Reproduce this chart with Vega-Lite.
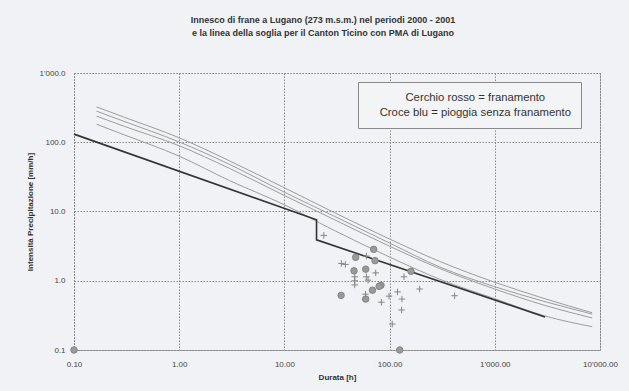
{
  "$schema": "https://vega.github.io/schema/vega-lite/v6.json",
  "width": 526,
  "height": 277,
  "autosize": "none",
  "padding": {"left": 74, "top": 73, "right": 29, "bottom": 41},
  "background": "#f1f2f5",
  "config": {
    "font": "Liberation Sans",
    "view": {"stroke": "#8a8a8a", "strokeDash": [1.5, 1.5], "strokeWidth": 1}
  },
  "title": {
    "text": ["Innesco di frane a Lugano (273 m.s.m.) nel periodi 2000 - 2001", "e la linea della soglia per il Canton Ticino con PMA di Lugano"],
    "fontSize": 9,
    "font": "Liberation Sans",
    "fontWeight": "bold",
    "color": "#333333",
    "lineHeight": 13,
    "anchor": "middle",
    "dx": -14,
    "offset": 31
  },
  "datasets": {
    "curve": [
      {"curva": "C1", "durata": 0.164, "intensita": 324},
      {"curva": "C1", "durata": 0.3, "intensita": 230},
      {"curva": "C1", "durata": 1, "intensita": 116},
      {"curva": "C1", "durata": 3, "intensita": 54},
      {"curva": "C1", "durata": 10, "intensita": 22},
      {"curva": "C1", "durata": 30, "intensita": 9.6},
      {"curva": "C1", "durata": 100, "intensita": 4.0},
      {"curva": "C1", "durata": 300, "intensita": 1.9},
      {"curva": "C1", "durata": 1000, "intensita": 0.95},
      {"curva": "C1", "durata": 3000, "intensita": 0.55},
      {"curva": "C1", "durata": 8430, "intensita": 0.345},
      {"curva": "C2", "durata": 0.164, "intensita": 281},
      {"curva": "C2", "durata": 0.3, "intensita": 200},
      {"curva": "C2", "durata": 1, "intensita": 101},
      {"curva": "C2", "durata": 3, "intensita": 48},
      {"curva": "C2", "durata": 10, "intensita": 19},
      {"curva": "C2", "durata": 30, "intensita": 8.5},
      {"curva": "C2", "durata": 100, "intensita": 3.5},
      {"curva": "C2", "durata": 300, "intensita": 1.58},
      {"curva": "C2", "durata": 1000, "intensita": 0.82},
      {"curva": "C2", "durata": 3000, "intensita": 0.5},
      {"curva": "C2", "durata": 8430, "intensita": 0.33},
      {"curva": "C3", "durata": 0.164, "intensita": 238},
      {"curva": "C3", "durata": 0.3, "intensita": 170},
      {"curva": "C3", "durata": 1, "intensita": 89},
      {"curva": "C3", "durata": 3, "intensita": 42},
      {"curva": "C3", "durata": 10, "intensita": 17},
      {"curva": "C3", "durata": 30, "intensita": 7.6},
      {"curva": "C3", "durata": 100, "intensita": 3.15},
      {"curva": "C3", "durata": 300, "intensita": 1.5},
      {"curva": "C3", "durata": 1000, "intensita": 0.76},
      {"curva": "C3", "durata": 3000, "intensita": 0.44},
      {"curva": "C3", "durata": 8430, "intensita": 0.29},
      {"curva": "C4", "durata": 0.164, "intensita": 182},
      {"curva": "C4", "durata": 0.3, "intensita": 128},
      {"curva": "C4", "durata": 1, "intensita": 63},
      {"curva": "C4", "durata": 3, "intensita": 28},
      {"curva": "C4", "durata": 10, "intensita": 12.5},
      {"curva": "C4", "durata": 30, "intensita": 5.3},
      {"curva": "C4", "durata": 100, "intensita": 2.2},
      {"curva": "C4", "durata": 300, "intensita": 1.05},
      {"curva": "C4", "durata": 1000, "intensita": 0.55},
      {"curva": "C4", "durata": 3000, "intensita": 0.31},
      {"curva": "C4", "durata": 8430, "intensita": 0.217}
    ],
    "soglia": [
      {"n": 1, "durata": 0.1, "intensita": 131},
      {"n": 2, "durata": 20.2, "intensita": 7.6},
      {"n": 3, "durata": 20.2, "intensita": 3.9},
      {"n": 4, "durata": 3000, "intensita": 0.3}
    ],
    "punti": [
      {"tipo": "Cerchio rosso = franamento", "durata": 0.1, "intensita": 0.1},
      {"tipo": "Cerchio rosso = franamento", "durata": 124.7, "intensita": 0.1},
      {"tipo": "Cerchio rosso = franamento", "durata": 70.6, "intensita": 2.84},
      {"tipo": "Cerchio rosso = franamento", "durata": 47.6, "intensita": 2.18},
      {"tipo": "Cerchio rosso = franamento", "durata": 72.7, "intensita": 1.95},
      {"tipo": "Cerchio rosso = franamento", "durata": 45.9, "intensita": 1.39},
      {"tipo": "Cerchio rosso = franamento", "durata": 59.3, "intensita": 1.47},
      {"tipo": "Cerchio rosso = franamento", "durata": 82.8, "intensita": 0.86},
      {"tipo": "Cerchio rosso = franamento", "durata": 79.5, "intensita": 0.83},
      {"tipo": "Cerchio rosso = franamento", "durata": 68.7, "intensita": 0.73},
      {"tipo": "Cerchio rosso = franamento", "durata": 34.6, "intensita": 0.615},
      {"tipo": "Cerchio rosso = franamento", "durata": 59.3, "intensita": 0.544},
      {"tipo": "Cerchio rosso = franamento", "durata": 159.7, "intensita": 1.37},
      {"tipo": "Croce blu = pioggia senza franamento", "durata": 23.7, "intensita": 4.52},
      {"tipo": "Croce blu = pioggia senza franamento", "durata": 34.8, "intensita": 1.78},
      {"tipo": "Croce blu = pioggia senza franamento", "durata": 38.0, "intensita": 1.72},
      {"tipo": "Croce blu = pioggia senza franamento", "durata": 60.2, "intensita": 2.27},
      {"tipo": "Croce blu = pioggia senza franamento", "durata": 73.8, "intensita": 1.3},
      {"tipo": "Croce blu = pioggia senza franamento", "durata": 46.6, "intensita": 1.14},
      {"tipo": "Croce blu = pioggia senza franamento", "durata": 46.6, "intensita": 1.0},
      {"tipo": "Croce blu = pioggia senza franamento", "durata": 46.6, "intensita": 0.87},
      {"tipo": "Croce blu = pioggia senza franamento", "durata": 60.2, "intensita": 1.14},
      {"tipo": "Croce blu = pioggia senza franamento", "durata": 62.4, "intensita": 1.02},
      {"tipo": "Croce blu = pioggia senza franamento", "durata": 137, "intensita": 1.14},
      {"tipo": "Croce blu = pioggia senza franamento", "durata": 193, "intensita": 0.76},
      {"tipo": "Croce blu = pioggia senza franamento", "durata": 119, "intensita": 0.69},
      {"tipo": "Croce blu = pioggia senza franamento", "durata": 98.7, "intensita": 0.6},
      {"tipo": "Croce blu = pioggia senza franamento", "durata": 131, "intensita": 0.544},
      {"tipo": "Croce blu = pioggia senza franamento", "durata": 83.6, "intensita": 0.49},
      {"tipo": "Croce blu = pioggia senza franamento", "durata": 59, "intensita": 0.64},
      {"tipo": "Croce blu = pioggia senza franamento", "durata": 130, "intensita": 0.378},
      {"tipo": "Croce blu = pioggia senza franamento", "durata": 106, "intensita": 0.237},
      {"tipo": "Croce blu = pioggia senza franamento", "durata": 415, "intensita": 0.608}
    ]
  },
  "layer": [
    {
      "data": {"name": "curve"},
      "mark": {"type": "line", "color": "#9c9c9c", "strokeWidth": 1, "interpolate": "monotone"},
      "encoding": {
        "x": {
          "field": "durata", "type": "quantitative",
          "scale": {"type": "log", "domain": [0.1, 10000], "nice": false},
          "axis": {
            "title": "Durata [h]",
            "values": [0.1, 1, 10, 100, 1000, 10000],
            "labelExpr": "datum.value >= 1000 ? replace(format(datum.value, ',.2f'), ',', \"'\") : format(datum.value, '.2f')",
            "grid": true, "gridColor": "#8a8a8a", "gridDash": [1.5, 1.5], "gridWidth": 1,
            "domain": false, "ticks": false,
            "labelFlush": false, "labelOverlap": false,
            "labelFontSize": 8, "labelColor": "#444444", "labelPadding": 10,
            "titleFontSize": 8, "titleFontWeight": "bold", "titleColor": "#333333", "titlePadding": 5
          }
        },
        "y": {
          "field": "intensita", "type": "quantitative",
          "scale": {"type": "log", "domain": [0.1, 1000], "nice": false},
          "axis": {
            "title": "Intensità Precipitazione [mm/h]",
            "values": [0.1, 1, 10, 100, 1000],
            "labelExpr": "datum.value >= 1000 ? replace(format(datum.value, ',.1f'), ',', \"'\") : format(datum.value, '.1f')",
            "grid": true, "gridColor": "#8a8a8a", "gridDash": [1.5, 1.5], "gridWidth": 1,
            "domain": false, "ticks": false,
            "labelFlush": false, "labelOverlap": false,
            "labelFontSize": 8, "labelColor": "#444444", "labelPadding": 9,
            "titleFontSize": 8, "titleFontWeight": "bold", "titleColor": "#333333", "titlePadding": 5
          }
        },
        "detail": {"field": "curva"}
      }
    },
    {
      "data": {"name": "soglia"},
      "mark": {"type": "line", "color": "#333333", "strokeWidth": 1.6},
      "encoding": {
        "x": {"field": "durata", "type": "quantitative"},
        "y": {"field": "intensita", "type": "quantitative"},
        "order": {"field": "n", "type": "quantitative"}
      }
    },
    {
      "data": {"name": "punti"},
      "mark": {"type": "point", "filled": true, "fill": "#9a9a9a", "stroke": "#858585", "strokeWidth": 1, "opacity": 1, "size": 42},
      "encoding": {
        "x": {"field": "durata", "type": "quantitative"},
        "y": {"field": "intensita", "type": "quantitative"},
        "shape": {
          "field": "tipo", "type": "nominal",
          "scale": {"domain": ["Cerchio rosso = franamento", "Croce blu = pioggia senza franamento"], "range": ["circle", "M-1,0L1,0M0,-1L0,1"]},
          "legend": {
            "title": null, "orient": "none", "legendX": 284, "legendY": 9,
            "labelAlign": "center", "labelOffset": 96, "labelFontSize": 11.3, "labelColor": "#333333",
            "labelFont": "Liberation Sans", "labelLimit": 400,
            "padding": 10, "rowPadding": 3,
            "strokeColor": "#8a8a8a", "fillColor": "#f3f4f6",
            "symbolOpacity": 0, "symbolSize": 1, "symbolStrokeWidth": 0
          }
        }
      }
    }
  ]
}
